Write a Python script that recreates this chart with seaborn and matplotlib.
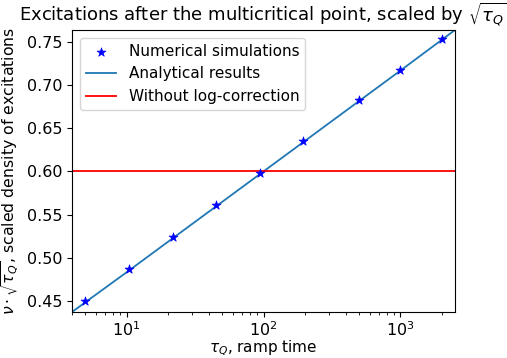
import numpy as np
import pandas as pd
import matplotlib
matplotlib.use("Agg")
import matplotlib.pyplot as plt
import seaborn as sns

# Ramp times used in the simulations and the measured scaled densities
tau_sim = [5, 10.5, 22, 45, 95, 195, 500, 1000, 2000]
density_sim = [0.450, 0.487, 0.524, 0.561, 0.598, 0.635, 0.683, 0.718, 0.753]

# Analytical prediction evaluated on the plotted tau range
tau_theory = [4.0, 10, 100, 1000, 2500]
density_theory = [0.437, 0.483, 0.600, 0.717, 0.764]

# Constant value without the logarithmic correction
density_nolog = 0.601

sim = pd.DataFrame({"tau": tau_sim, "density": density_sim})
theory = pd.DataFrame({"tau": tau_theory, "density": density_theory})

fig = plt.figure(figsize=(5.07, 3.58), dpi=100)
ax = fig.add_axes([72 / 507, 1 - 312 / 358, (455 - 72) / 507, (312 - 30) / 358])

sns.scatterplot(data=sim, x="tau", y="density", ax=ax, marker="*", color="blue",
                s=45, edgecolor="blue", linewidth=0.5, zorder=3,
                label="Numerical simulations")
sns.lineplot(data=theory, x="tau", y="density", ax=ax, color="#1f77b4",
             linewidth=1.3, label="Analytical results")
ax.axhline(density_nolog, color="red", linewidth=1.3, label="Without log-correction")

ax.set_xscale("log")
ax.set_xlim(tau_theory[0], tau_theory[-1])
ax.set_ylim(density_theory[0], density_theory[-1])
ax.set_yticks([0.45, 0.50, 0.55, 0.60, 0.65, 0.70, 0.75])
ax.tick_params(labelsize=11.5)
ax.tick_params(axis="x", pad=2.5)

ax.set_xlabel(r"$\tau_Q$, ramp time", fontsize=11, labelpad=-0.5)
ax.set_ylabel(r"$\nu \cdot \sqrt{\tau_Q}$, scaled density of excitations", fontsize=11.3)
ax.set_title(r"Excitations after the multicritical point, scaled by $\sqrt{\tau_Q}$",
             fontsize=13)
ax.legend(loc="upper left", fontsize=11)

fig.savefig("out.png", dpi=100)
